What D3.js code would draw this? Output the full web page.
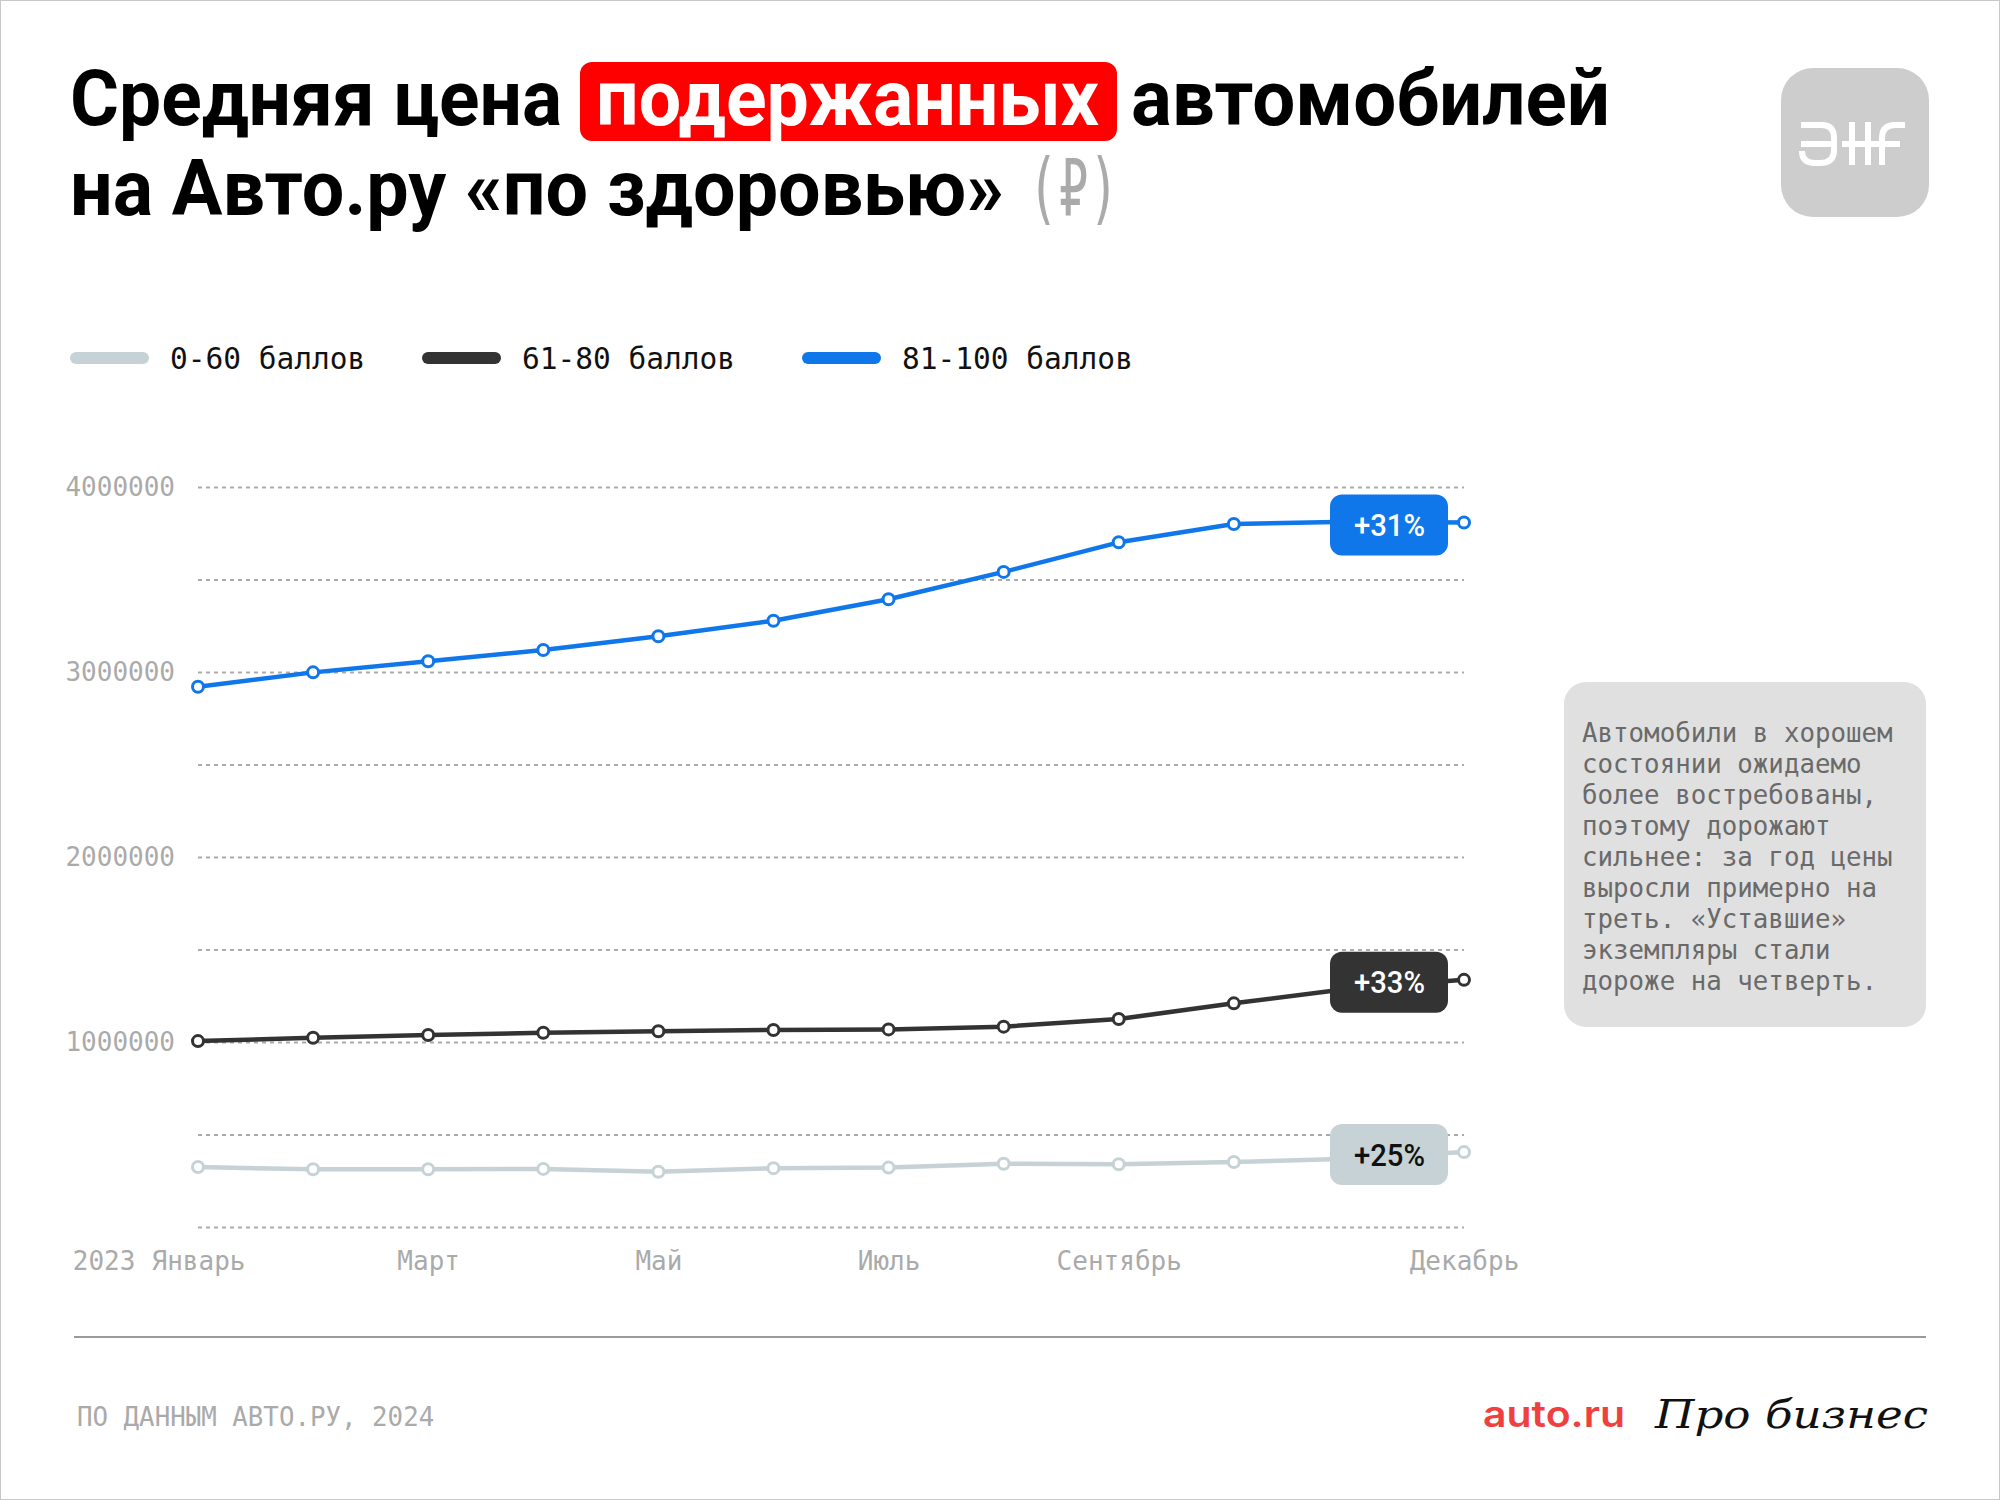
<!DOCTYPE html>
<html>
<head>
<meta charset="utf-8">
<script src="https://cdn.jsdelivr.net/npm/d3@7"></script>
<style>
  body { margin: 0; background: #fff; }
  text { font-family: "DejaVu Sans Mono", monospace; }
</style>
</head>
<body>
<script>
// months and tick labels
const months = ['Январь','Февраль','Март','Апрель','Май','Июнь','Июль','Август','Сентябрь','Октябрь','Ноябрь','Декабрь'];
const monthTicks = ['Январь','Март','Май','Июль','Сентябрь','Декабрь'];
const yearLabel = '2023';
const yTicks = [1000000, 2000000, 3000000, 4000000];

// average price, rub, by health score group
const seriesNames = ['0-60 баллов', '61-80 баллов', '81-100 баллов'];
const low = [324000, 312000, 312000, 314000, 299000, 318000, 321000, 342000, 339000, 351000, 369000, 405000];
const mid = [1005000, 1023000, 1038000, 1050000, 1058000, 1065000, 1068000, 1083000, 1124000, 1209000, 1288000, 1336000];
const high = [2920000, 2998000, 3058000, 3119000, 3193000, 3277000, 3393000, 3541000, 3701000, 3800000, 3812000, 3808000];
const changeLabels = ['+25%', '+33%', '+31%'];

const noteLines = [
  'Автомобили в хорошем',
  'состоянии ожидаемо',
  'более востребованы,',
  'поэтому дорожают',
  'сильнее: за год цены',
  'выросли примерно на',
  'треть. «Уставшие»',
  'экземпляры стали',
  'дороже на четверть.'
];

const colors = ['#c6d2d5', '#333333', '#1077ea'];
const labelText = ['#111111', '#ffffff', '#ffffff'];

const W = 2000, H = 1500;
const svg = d3.select('body').append('svg')
  .attr('width', W).attr('height', H);

// frame
svg.append('rect')
  .attr('x', 0.5).attr('y', 0.5).attr('width', W - 1).attr('height', H - 1)
  .attr('fill', '#fff').attr('stroke', '#c8c8c8');

// ---- title ----
const titleFont = 'Roboto, "Open Sans", sans-serif';
function titlePart(str, x, y, len, fill, font, weight) {
  svg.append('text')
    .attr('x', x).attr('y', y)
    .attr('textLength', len).attr('lengthAdjust', 'spacingAndGlyphs')
    .style('font-family', font || titleFont)
    .style('font-weight', weight || 700)
    .style('font-size', '78px')
    .attr('fill', fill)
    .text(str);
}
svg.append('rect')
  .attr('x', 580).attr('y', 62).attr('width', 537).attr('height', 79)
  .attr('rx', 12).attr('fill', '#fe0000');
titlePart('Средняя цена', 70, 125, 492, '#000');
titlePart('подержанных', 596, 125, 503, '#fff');
titlePart('автомобилей', 1131, 125, 479, '#000');
titlePart('на Авто.ру «по здоровью»', 70, 215, 934, '#000');
titlePart('(₽)', 1028, 215, 91, '#aaaaaa', '"DejaVu Sans Mono", monospace', 400);

// aif logo
const logo = svg.append('g');
logo.append('rect')
  .attr('x', 1781).attr('y', 68).attr('width', 148).attr('height', 149)
  .attr('rx', 32).attr('fill', '#cdcdcd');
logo.append('path')
  .attr('d', 'M1801,125 H1822 Q1834,125 1834,138 V150 Q1834,163 1820,163 H1815 Q1802,163 1802,151 M1801,144 H1834')
  .attr('fill', 'none').attr('stroke', '#fff').attr('stroke-width', 6);
logo.append('path')
  .attr('d', 'M1852,122 V165 M1868,122 V165 M1842,144 H1878 M1882,165 V138 Q1882,125 1895,125 H1905 M1874,144 H1900')
  .attr('fill', 'none').attr('stroke', '#fff').attr('stroke-width', 6);

// ---- legend ----
const legendX = [76, 428, 808];
seriesNames.forEach((name, i) => {
  svg.append('line')
    .attr('x1', legendX[i]).attr('x2', legendX[i] + 67)
    .attr('y1', 358).attr('y2', 358)
    .attr('stroke', colors[i]).attr('stroke-width', 12)
    .attr('stroke-linecap', 'round');
  svg.append('text')
    .attr('x', legendX[i] + 94).attr('y', 358).attr('dy', '0.36em')
    .style('font-size', '29.5px').attr('fill', '#111')
    .text(name);
});

// ---- chart ----
const x = d3.scalePoint().domain(months).range([198, 1464]);
const y = d3.scaleLinear().domain([0, 4000000]).range([1227, 487]);

// gridlines
const grid = svg.append('g')
  .attr('transform', 'translate(198,0)')
  .call(d3.axisLeft(y).tickValues(d3.range(0, 4000001, 500000)).tickSize(-1266).tickFormat(''));
grid.select('.domain').remove();
grid.selectAll('line')
  .attr('stroke', '#ababab').attr('stroke-width', 2).attr('stroke-dasharray', '4,4');

// y labels
const yAxis = svg.append('g')
  .attr('transform', 'translate(198,0)')
  .call(d3.axisLeft(y).tickValues(yTicks).tickSize(0).tickPadding(23).tickFormat(d3.format('d')));
yAxis.select('.domain').remove();
yAxis.selectAll('text')
  .style('font-family', '"DejaVu Sans Mono", monospace')
  .style('font-size', '26px').attr('fill', '#aaaaaa');

// x labels
const xAxis = svg.append('g')
  .attr('transform', 'translate(0,1227)')
  .call(d3.axisBottom(x).tickValues(monthTicks).tickSize(0));
xAxis.select('.domain').remove();
xAxis.selectAll('text')
  .attr('y', 43).attr('dy', 0)
  .style('font-family', '"DejaVu Sans Mono", monospace')
  .style('font-size', '26px').attr('fill', '#aaaaaa');
svg.append('text')
  .attr('x', x(months[0]) - 4 * 15.65).attr('y', 1270)
  .attr('text-anchor', 'end')
  .style('font-size', '26px').attr('fill', '#aaaaaa')
  .text(yearLabel);

// lines
const line = d3.line().x((d, i) => x(months[i])).y(d => y(d));
const series = [low, mid, high];
series.forEach((vals, i) => {
  const g = svg.append('g');
  g.append('path')
    .attr('d', line(vals))
    .attr('fill', 'none').attr('stroke', colors[i])
    .attr('stroke-width', 4.5).attr('stroke-linejoin', 'round');
  g.selectAll('circle')
    .data(vals)
    .join('circle')
    .attr('cx', (d, j) => x(months[j]))
    .attr('cy', d => y(d))
    .attr('r', 5.5)
    .attr('fill', '#fff').attr('stroke', colors[i]).attr('stroke-width', 3);

  // change label box near the last point
  const last = vals[vals.length - 1];
  const lx = x(months[months.length - 1]);
  const cy = y(last) + 2;
  svg.append('rect')
    .attr('x', lx - 134).attr('y', cy - 30)
    .attr('width', 118).attr('height', 61).attr('rx', 12)
    .attr('fill', colors[i]);
  svg.append('text')
    .attr('x', lx - 110).attr('y', cy).attr('dy', '0.36em')
    .attr('textLength', 71).attr('lengthAdjust', 'spacingAndGlyphs')
    .style('font-family', 'Roboto, sans-serif').style('font-weight', 500)
    .style('font-size', '32px').attr('fill', labelText[i])
    .text(changeLabels[i]);
});

// ---- note box ----
svg.append('rect')
  .attr('x', 1564).attr('y', 682).attr('width', 362).attr('height', 345)
  .attr('rx', 22).attr('fill', '#e0e0e0');
svg.append('g').selectAll('text')
  .data(noteLines)
  .join('text')
  .attr('x', 1582)
  .attr('y', (d, i) => 742 + i * 31)
  .style('font-size', '25.8px').attr('fill', '#6a6a6a')
  .text(d => d);

// ---- footer ----
svg.append('line')
  .attr('x1', 74).attr('x2', 1926).attr('y1', 1337).attr('y2', 1337)
  .attr('stroke', '#9a9a9a').attr('stroke-width', 2);
svg.append('text')
  .attr('x', 77).attr('y', 1426)
  .style('font-size', '25.8px').attr('fill', '#aaaaaa')
  .text('ПО ДАННЫМ АВТО.РУ, 2024');
svg.append('text')
  .attr('x', 1483).attr('y', 1427)
  .attr('textLength', 142).attr('lengthAdjust', 'spacingAndGlyphs')
  .style('font-family', 'Inter, "Open Sans", sans-serif').style('font-weight', 600)
  .style('font-size', '36px').attr('fill', '#ef3f3f')
  .text('auto.ru');
svg.append('text')
  .attr('x', 1655).attr('y', 1428)
  .attr('textLength', 273).attr('lengthAdjust', 'spacingAndGlyphs')
  .style('font-family', '"DejaVu Serif", serif').style('font-style', 'italic')
  .style('font-size', '40px').attr('fill', '#111')
  .text('Про бизнес');
</script>
</body>
</html>
